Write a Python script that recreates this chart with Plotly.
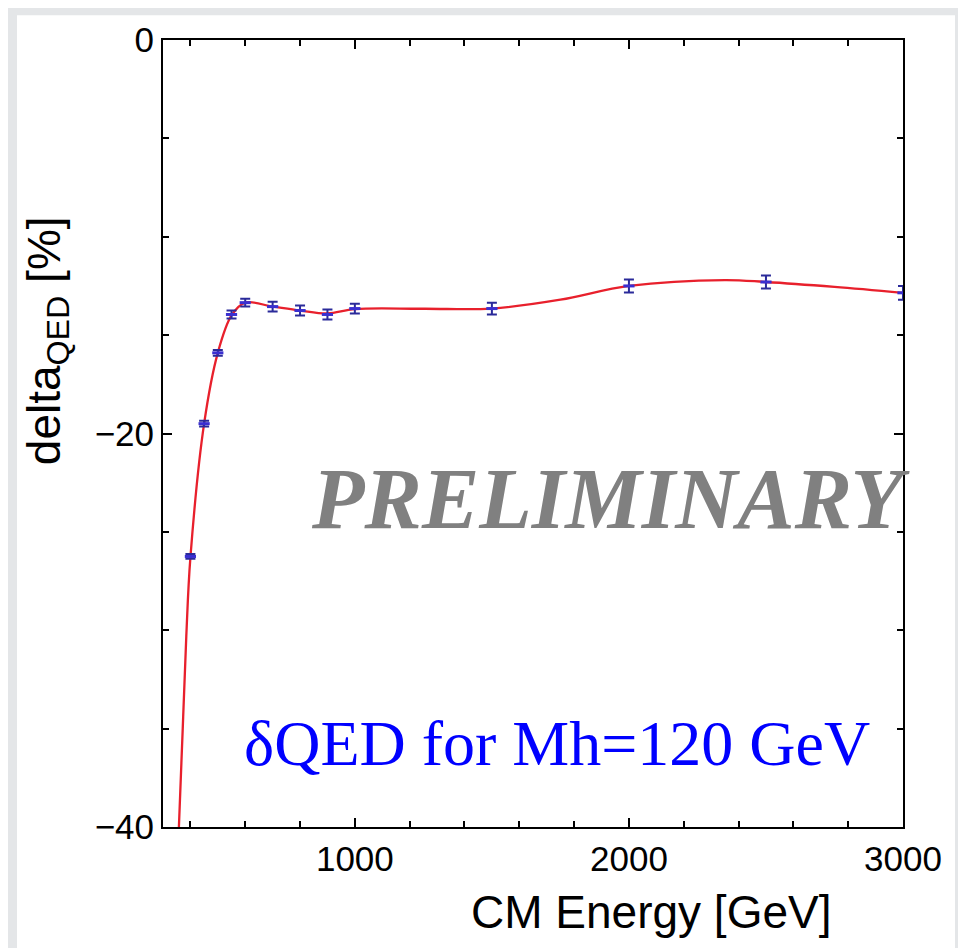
import plotly.graph_objects as go

# Data
energy = [400, 450, 500, 550, 600, 700, 800, 900, 1000, 1500, 2000, 2500, 3000]
delta_qed = [-26.25, -19.5, -15.9, -13.95, -13.35, -13.55, -13.75, -13.95, -13.65, -13.65, -12.5, -12.3, -12.85]
delta_err = [0.12, 0.15, 0.15, 0.2, 0.2, 0.25, 0.25, 0.25, 0.25, 0.3, 0.33, 0.33, 0.35]

# Fitted curve
fit_energy = [358, 372, 385, 400, 450, 500, 550, 600, 700, 800, 900, 1000, 1250, 1500, 1750, 2000, 2350, 2500, 2750, 3000]
fit_delta = [-40, -35, -30.3, -26.3, -19.5, -15.9, -14.0, -13.35, -13.55, -13.75, -13.9, -13.68, -13.66, -13.65, -13.2, -12.5, -12.2, -12.3, -12.55, -12.85]

x_ticks = [1000, 2000, 3000]
y_ticks = [0, -20, -40]
y_tick_text = ["0", "\u221220", "\u221240"]

W, H = 966, 948
OFF = 8  # page offset of the figure inside the window
# plot area in window pixels
PX0, PX1, PY0, PY1 = 163, 903, 30, 827
L, T = PX0 - OFF, PY0 - OFF
R = W - (PX1 - OFF)
B = H - (PY1 - OFF)
pw, ph = PX1 - PX0, PY1 - PY0


def px(x):
    return (x - PX0) / pw


def py(y):
    return (PY1 - y) / ph


fig = go.Figure()

fig.add_trace(go.Scatter(
    x=fit_energy, y=fit_delta, mode="lines",
    line=dict(color="#e8202c", width=2.3, shape="spline", smoothing=1.0),
    hoverinfo="skip", showlegend=False))

fig.add_trace(go.Scatter(
    x=energy, y=delta_qed, mode="markers",
    marker=dict(symbol="line-ew", size=8, color="#3a2fd0",
                line=dict(color="#3a2fd0", width=3)),
    error_y=dict(type="data", array=delta_err, color="#2a2a9a", thickness=2, width=5),
    showlegend=False))

axis_common = dict(
    showline=True, linecolor="black", linewidth=2, mirror="ticks",
    ticks="inside", ticklen=9, tickwidth=1.5, tickcolor="black",
    showgrid=False, zeroline=False,
    tickfont=dict(family="Liberation Sans, Arial, sans-serif", size=35, color="black"),
)

fig.update_xaxes(range=[300, 3000], tickvals=x_ticks,
                 minor=dict(ticks="inside", dtick=200, tick0=0, ticklen=6, tickcolor="black", tickwidth=1.5),
                 **axis_common)
fig.update_yaxes(range=[-40, 0], tickvals=y_ticks, ticktext=y_tick_text,
                 minor=dict(ticks="inside", dtick=5, tick0=0, ticklen=6, tickcolor="black", tickwidth=1.5),
                 **axis_common)

# white page area over gray slide background
fig.add_shape(type="rect", xref="paper", yref="paper",
              x0=px(17), x1=px(955), y0=py(960), y1=py(5),
              fillcolor="white", line=dict(width=0), layer="below")

fig.add_annotation(text="PRELIMINARY", xref="paper", yref="paper",
                   x=px(610), y=py(495), showarrow=False,
                   font=dict(family="Liberation Serif, Times New Roman, serif", size=86, color="#808080",
                             weight="bold", style="italic"),
                   xanchor="center", yanchor="middle")

fig.add_annotation(text="\u03b4QED for Mh=120 GeV", xref="paper", yref="paper",
                   x=px(557), y=py(742), showarrow=False,
                   font=dict(family="Liberation Serif, Times New Roman, serif", size=64, color="#0000ff"),
                   xanchor="center", yanchor="middle")

fig.add_annotation(text="CM Energy [GeV]", xref="paper", yref="paper",
                   x=px(833), y=py(913), showarrow=False,
                   font=dict(family="Liberation Sans, Arial, sans-serif", size=46, color="black"),
                   xanchor="right", yanchor="middle")

fig.add_annotation(text="delta<sub>QED</sub> [%]", xref="paper", yref="paper",
                   x=px(47), y=py(335), showarrow=False, textangle=-90,
                   font=dict(family="Liberation Sans, Arial, sans-serif", size=46, color="black"),
                   xanchor="center", yanchor="middle")

fig.update_layout(
    width=W, height=H,
    margin=dict(l=L, r=R, t=T, b=B),
    paper_bgcolor="#e4e6e8", plot_bgcolor="white",
)

fig.write_html("out.html")
